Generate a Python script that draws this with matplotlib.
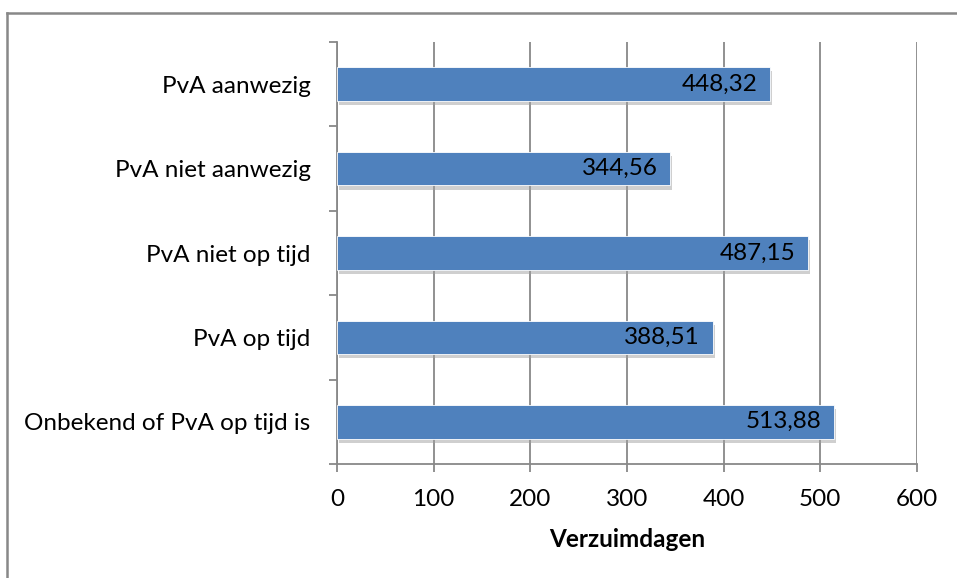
import matplotlib
matplotlib.use("Agg")
import matplotlib.pyplot as plt
import matplotlib.patheffects as pe
from matplotlib.lines import Line2D

categories = ["PvA aanwezig", "PvA niet aanwezig", "PvA niet op tijd", "PvA op tijd",
              "Onbekend of PvA op tijd is"]
values = [448.32, 344.56, 487.15, 388.51, 513.88]
value_labels = ["448,32", "344,56", "487,15", "388,51", "513,88"]
xticks = [0, 100, 200, 300, 400, 500, 600]
xlabel = "Verzuimdagen"

plt.rcParams['font.family'] = ['Lato', 'DejaVu Sans']
FS = 17.5

fig = plt.figure(figsize=(9.57, 5.78), dpi=100)
ax = fig.add_axes([337/957, 1-464/578, (917-337)/957, (464-42)/578])

n = len(categories)
ypos = list(range(n))
ax.barh(ypos, values, height=0.4, color="#4F81BD", edgecolor="white", linewidth=0.6, zorder=3,
        path_effects=[pe.SimplePatchShadow(offset=(1.5, -3), shadow_rgbFace="#a0a0a0", alpha=0.5), pe.Normal()])
ax.set_ylim(n - 0.5, -0.5)
ax.set_xlim(0, 600)

for y, v, lab in zip(ypos, values, value_labels):
    ax.annotate(lab, xy=(v, y), xytext=(-9, 0), textcoords="offset points",
                ha="right", va="center", fontsize=FS, color="black", zorder=4)

ax.set_xticks(xticks)
ax.set_xticklabels([str(t) for t in xticks], fontsize=FS)
ax.set_yticks(ypos)
ax.set_yticklabels(categories, fontsize=FS)
ax.tick_params(axis='y', length=0, pad=19)
ax.set_yticks([i - 0.5 for i in range(n + 1)], minor=True)
ax.tick_params(axis='y', which='minor', length=6, width=1.3, color="#888888", direction='out')
ax.tick_params(axis='x', length=6, width=1.3, color="#888888", direction='out', pad=12)

ax.grid(axis='x', color="#888888", linewidth=1.3, zorder=0)
ax.set_axisbelow(True)
for s in ['top', 'right']:
    ax.spines[s].set_visible(False)
for s in ['left', 'bottom']:
    ax.spines[s].set_color("#888888")
    ax.spines[s].set_linewidth(1.3)

ax.set_xlabel(xlabel, fontsize=FS, fontweight='bold', labelpad=13)

# outer border (top and left visible)
fig.add_artist(Line2D([7/957, 7/957], [0, 1-13/578], transform=fig.transFigure, color="#888888", linewidth=1.8))
fig.add_artist(Line2D([7/957, 1], [1-13/578, 1-13/578], transform=fig.transFigure, color="#888888", linewidth=1.8))

fig.savefig("out.png", dpi=100, facecolor="white")
